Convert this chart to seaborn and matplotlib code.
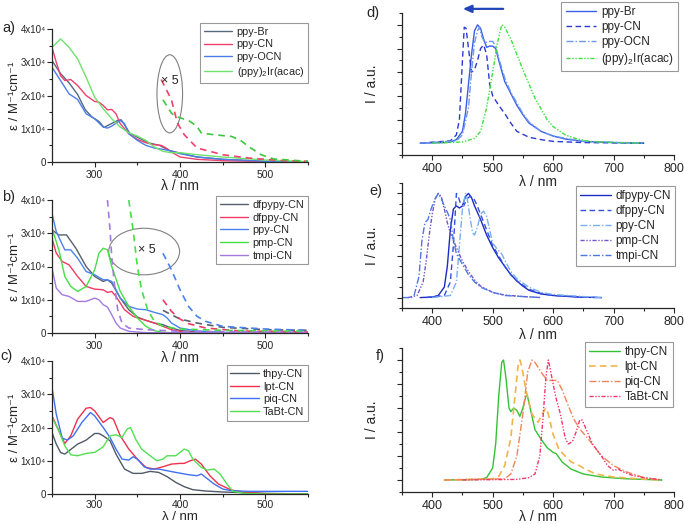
import numpy as np
import pandas as pd
import seaborn as sns
import matplotlib
matplotlib.use("Agg")
import matplotlib.pyplot as plt
from matplotlib.patches import Ellipse
from matplotlib.ticker import MultipleLocator

# ---------------- Panel a (absorption) ----------------
a_br_x = [250, 260, 270, 280, 289, 297, 305, 311, 317, 327, 331, 335, 341, 352, 364, 376, 388, 400, 420, 450, 500, 550]
a_br_y = [3.05, 2.66, 2.38, 2.03, 1.57, 1.35, 1.22, 1.04, 1.12, 1.25, 1.27, 1.12, 0.87, 0.72, 0.57, 0.50, 0.34, 0.27, 0.15, 0.08, 0.02, 0.0]
a_cn_x = [250, 255, 260, 265, 272, 280, 290, 300, 305, 310, 315, 320, 325, 330, 340, 350, 360, 370, 378, 385, 390, 400, 420, 450, 500, 550]
a_cn_y = [3.45, 3.0, 2.6, 2.45, 2.48, 2.3, 2.0, 1.82, 1.8, 1.7, 1.57, 1.58, 1.45, 1.15, 0.85, 0.68, 0.58, 0.52, 0.5, 0.4, 0.3, 0.15, 0.08, 0.04, 0.01, 0.0]
a_ocn_x = [250, 260, 270, 280, 290, 300, 310, 315, 320, 330, 335, 340, 350, 360, 370, 380, 390, 400, 420, 450, 500, 550]
a_ocn_y = [2.85, 2.45, 2.05, 1.88, 1.45, 1.3, 1.05, 1.02, 1.08, 1.25, 1.15, 0.85, 0.65, 0.5, 0.42, 0.38, 0.33, 0.25, 0.15, 0.08, 0.02, 0.0]
a_ir_x = [250, 260, 270, 280, 290, 300, 310, 320, 330, 340, 350, 360, 370, 380, 390, 400, 420, 450, 500, 550]
a_ir_y = [3.45, 3.7, 3.45, 3.1, 2.55, 1.95, 1.6, 1.3, 1.05, 0.88, 0.78, 0.65, 0.45, 0.32, 0.28, 0.28, 0.22, 0.15, 0.06, 0.01]
a_cn5_x = [378, 390, 397, 405, 420, 450, 480, 520, 550]
a_cn5_y = [2.48, 1.87, 1.17, 0.82, 0.42, 0.22, 0.12, 0.04, 0.02]
a_ir5_x = [380, 390, 395, 410, 420, 425, 440, 460, 470, 480, 495, 510, 550]
a_ir5_y = [1.87, 1.47, 1.37, 1.25, 1.07, 0.87, 0.82, 0.77, 0.67, 0.47, 0.22, 0.09, 0.02]

# ---------------- Panel b ----------------
b_dfpypy_x = [250, 258, 267, 278, 290, 300, 310, 315, 320, 330, 340, 350, 360, 370, 380, 390, 400, 420, 450, 550]
b_dfpypy_y = [3.1, 2.95, 2.95, 2.55, 2.0, 1.7, 1.55, 1.6, 1.5, 1.05, 0.7, 0.48, 0.38, 0.3, 0.25, 0.15, 0.08, 0.03, 0.01, 0.0]
b_dfppy_x = [250, 255, 262, 270, 280, 290, 300, 310, 315, 320, 325, 335, 345, 360, 370, 380, 390, 400, 420, 550]
b_dfppy_y = [2.85, 2.4, 2.15, 2.05, 1.7, 1.4, 1.32, 1.3, 1.22, 1.25, 1.1, 0.7, 0.5, 0.38, 0.3, 0.2, 0.1, 0.05, 0.01, 0.0]
b_ppy_x = [250, 255, 265, 272, 280, 290, 300, 310, 315, 320, 330, 340, 350, 360, 370, 380, 385, 390, 400, 420, 450, 550]
b_ppy_y = [3.6, 3.05, 2.5, 2.5, 2.25, 1.85, 1.75, 1.6, 1.6, 1.55, 1.05, 0.8, 0.72, 0.7, 0.62, 0.55, 0.45, 0.3, 0.15, 0.06, 0.02, 0.0]
b_pmp_x = [250, 258, 265, 272, 280, 290, 300, 305, 310, 315, 320, 330, 340, 350, 360, 370, 380, 400, 550]
b_pmp_y = [3.15, 2.5, 1.7, 1.4, 1.25, 1.4, 1.9, 2.4, 2.55, 2.5, 2.0, 1.25, 0.8, 0.45, 0.2, 0.07, 0.02, 0.0, 0.0]
b_tmpi_x = [250, 255, 262, 270, 280, 290, 300, 305, 310, 315, 320, 325, 330, 340, 360, 550]
b_tmpi_y = [1.95, 1.35, 1.15, 1.1, 0.95, 0.95, 1.05, 1.0, 0.85, 0.78, 0.55, 0.3, 0.15, 0.05, 0.01, 0.0]
b_dfpypy5_x = [380, 390, 400, 420, 450, 500, 550]
b_dfpypy5_y = [0.68, 0.55, 0.42, 0.3, 0.17, 0.1, 0.08]
b_dfppy5_x = [380, 390, 400, 410, 430, 470, 550]
b_dfppy5_y = [1.0, 0.65, 0.42, 0.28, 0.15, 0.06, 0.03]
b_ppy5_x = [380, 390, 400, 410, 420, 430, 450, 500, 550]
b_ppy5_y = [2.4, 1.9, 1.3, 0.8, 0.5, 0.35, 0.2, 0.12, 0.08]
b_pmp5_x = [340, 345, 350, 355, 362, 370, 380, 400, 450, 550]
b_pmp5_y = [4.0, 3.1, 2.0, 1.3, 0.7, 0.35, 0.2, 0.12, 0.08, 0.05]
b_tmpi5_x = [315, 318, 320, 323, 327, 332, 340, 360, 400, 550]
b_tmpi5_y = [4.0, 3.1, 2.3, 1.5, 0.7, 0.3, 0.15, 0.1, 0.05, 0.02]

# ---------------- Panel c ----------------
c_thpy_x = [250, 255, 260, 265, 270, 280, 290, 300, 305, 310, 318, 325, 335, 345, 355, 365, 375, 385, 395, 405, 415, 430, 450, 500, 550]
c_thpy_y = [1.85, 1.5, 1.25, 1.2, 1.3, 1.5, 1.62, 1.82, 1.82, 1.75, 1.6, 1.2, 0.75, 0.62, 0.62, 0.68, 0.65, 0.52, 0.35, 0.22, 0.13, 0.09, 0.06, 0.02, 0.0]
c_lpt_x = [250, 258, 265, 272, 280, 290, 295, 300, 310, 318, 322, 330, 340, 350, 360, 370, 380, 390, 400, 405, 412, 418, 425, 435, 445, 460, 475, 500, 550]
c_lpt_y = [2.35, 1.9, 1.52, 1.75, 2.25, 2.58, 2.6, 2.5, 2.15, 2.3, 2.25, 1.75, 1.35, 1.05, 0.8, 0.75, 0.82, 0.9, 0.92, 0.92, 1.0, 1.05, 0.9, 0.55, 0.3, 0.12, 0.05, 0.01, 0.0]
c_piq_x = [250, 255, 262, 268, 275, 285, 295, 300, 310, 318, 325, 332, 340, 345, 350, 358, 365, 375, 385, 395, 410, 420, 425, 430, 440, 450, 460, 480, 500, 550]
c_piq_y = [3.2, 2.4, 1.68, 1.62, 1.75, 2.15, 2.45, 2.35, 2.0, 1.7, 1.35, 1.05, 1.02, 1.12, 1.05, 0.82, 0.75, 0.75, 0.7, 0.65, 0.58, 0.55, 0.6, 0.5, 0.3, 0.15, 0.1, 0.08, 0.08, 0.08]
c_tabt_x = [250, 258, 265, 272, 280, 290, 300, 310, 318, 325, 332, 338, 342, 348, 355, 365, 373, 380, 385, 395, 400, 405, 410, 415, 425, 432, 440, 447, 455, 462, 475, 500, 550]
c_tabt_y = [2.3, 1.9, 1.45, 1.18, 1.15, 1.22, 1.25, 1.42, 1.75, 1.78, 1.7, 1.95, 2.0, 1.65, 1.35, 1.15, 1.0, 1.05, 1.15, 1.15, 1.25, 1.35, 1.3, 1.05, 0.8, 0.72, 0.75, 0.6, 0.3, 0.08, 0.02, 0.0, 0.0]

# ---------------- Panel d (emission) ----------------
d_br_x = [380, 420, 430, 440, 450, 455, 460, 465, 470, 475, 480, 485, 490, 495, 500, 505, 510, 520, 530, 540, 550, 560, 580, 600, 620, 650, 700, 750]
d_br_y = [0, 0.005, 0.01, 0.03, 0.1, 0.25, 0.5, 0.75, 0.95, 1.0, 0.97, 0.88, 0.81, 0.82, 0.82, 0.8, 0.7, 0.52, 0.42, 0.32, 0.24, 0.17, 0.1, 0.06, 0.035, 0.015, 0.005, 0]
d_cn_x = [380, 430, 440, 445, 450, 453, 456, 460, 465, 470, 475, 480, 485, 490, 495, 500, 510, 520, 530, 540, 560, 580, 600, 650, 750]
d_cn_y = [0, 0.02, 0.07, 0.2, 0.7, 0.98, 0.97, 0.8, 0.6, 0.62, 0.7, 0.8, 0.83, 0.75, 0.5, 0.4, 0.32, 0.25, 0.17, 0.1, 0.05, 0.03, 0.015, 0.005, 0]
d_ocn_x = [380, 440, 450, 460, 465, 470, 475, 478, 482, 487, 495, 500, 505, 510, 520, 530, 540, 550, 560, 580, 600, 650, 750]
d_ocn_y = [0, 0.02, 0.07, 0.3, 0.6, 0.85, 0.95, 0.98, 0.9, 0.85, 0.86, 0.86, 0.82, 0.72, 0.55, 0.43, 0.34, 0.25, 0.18, 0.1, 0.06, 0.015, 0]
d_ir_x = [400, 450, 470, 480, 490, 500, 508, 515, 520, 530, 540, 550, 560, 570, 580, 590, 600, 620, 640, 660, 700, 750]
d_ir_y = [0, 0.01, 0.04, 0.1, 0.3, 0.6, 0.85, 1.0, 0.98, 0.88, 0.75, 0.62, 0.5, 0.38, 0.29, 0.2, 0.14, 0.07, 0.035, 0.015, 0.005, 0]

# ---------------- Panel e ----------------
e_dfpypy_x = [380, 400, 410, 420, 425, 430, 435, 440, 445, 450, 455, 460, 465, 470, 480, 490, 500, 510, 520, 530, 540, 550, 560, 580, 600, 640, 680]
e_dfpypy_y = [0, 0.005, 0.02, 0.1, 0.3, 0.65, 0.85, 0.88, 0.86, 0.88, 0.97, 1.0, 0.96, 0.88, 0.75, 0.6, 0.48, 0.38, 0.3, 0.22, 0.16, 0.11, 0.07, 0.035, 0.02, 0.005, 0]
e_dfppy_x = [390, 420, 430, 435, 440, 443, 447, 452, 458, 462, 468, 473, 480, 490, 500, 510, 520, 530, 540, 560, 580, 600, 650, 680]
e_dfppy_y = [0, 0.02, 0.15, 0.5, 1.0, 0.97, 0.9, 0.88, 0.95, 0.97, 0.96, 0.9, 0.8, 0.65, 0.5, 0.4, 0.3, 0.22, 0.16, 0.08, 0.04, 0.02, 0.005, 0]
e_ppy_x = [400, 430, 440, 445, 450, 455, 458, 463, 467, 470, 475, 480, 485, 490, 495, 500, 510, 515, 520, 530, 540, 560, 580, 600, 650, 680]
e_ppy_y = [0, 0.02, 0.15, 0.5, 0.85, 1.0, 0.95, 0.75, 0.62, 0.6, 0.68, 0.8, 0.83, 0.78, 0.65, 0.52, 0.45, 0.42, 0.36, 0.25, 0.18, 0.1, 0.05, 0.03, 0.01, 0]
e_pmp_x = [360, 375, 385, 390, 395, 400, 405, 410, 415, 420, 425, 430, 440, 450, 460, 470, 480, 500, 520, 550, 580]
e_pmp_y = [0, 0.02, 0.15, 0.35, 0.6, 0.8, 0.95, 1.0, 0.97, 0.85, 0.72, 0.62, 0.48, 0.35, 0.25, 0.17, 0.11, 0.05, 0.025, 0.01, 0]
e_tmpi_x = [350, 365, 370, 378, 383, 388, 393, 398, 405, 410, 415, 420, 425, 430, 435, 440, 450, 460, 470, 480, 500, 520, 550, 580]
e_tmpi_y = [0, 0, 0.02, 0.2, 0.55, 0.72, 0.75, 0.85, 0.95, 1.0, 0.95, 0.88, 0.82, 0.75, 0.55, 0.42, 0.32, 0.22, 0.15, 0.1, 0.05, 0.02, 0.01, 0]

# ---------------- Panel f ----------------
f_thpy_x = [420, 480, 490, 500, 505, 510, 515, 518, 522, 527, 530, 535, 540, 545, 550, 555, 557, 562, 570, 580, 590, 600, 605, 615, 630, 650, 680, 720, 780]
f_thpy_y = [0, 0.005, 0.02, 0.1, 0.3, 0.7, 0.98, 1.0, 0.85, 0.6, 0.57, 0.6, 0.58, 0.53, 0.6, 0.7, 0.71, 0.6, 0.42, 0.34, 0.27, 0.23, 0.22, 0.15, 0.09, 0.05, 0.025, 0.01, 0]
f_lpt_x = [420, 500, 510, 520, 530, 537, 542, 545, 548, 555, 565, 575, 582, 588, 592, 600, 610, 620, 630, 640, 650, 670, 700, 740, 780]
f_lpt_y = [0, 0.01, 0.03, 0.12, 0.35, 0.7, 0.95, 1.0, 0.95, 0.75, 0.55, 0.48, 0.55, 0.6, 0.55, 0.38, 0.25, 0.2, 0.15, 0.13, 0.1, 0.05, 0.025, 0.01, 0]
f_piq_x = [420, 520, 530, 540, 550, 558, 565, 570, 580, 590, 600, 607, 615, 625, 635, 645, 660, 680, 700, 720, 750, 780]
f_piq_y = [0, 0.01, 0.05, 0.2, 0.55, 0.9, 1.0, 0.98, 0.9, 0.83, 0.83, 0.83, 0.75, 0.62, 0.5, 0.42, 0.33, 0.2, 0.12, 0.07, 0.02, 0]
f_tabt_x = [450, 540, 560, 570, 578, 583, 588, 592, 595, 600, 605, 612, 620, 625, 632, 638, 644, 648, 655, 665, 680, 690, 700, 708, 715, 730, 750, 780]
f_tabt_y = [0, 0.005, 0.02, 0.05, 0.2, 0.5, 0.85, 1.0, 0.93, 0.8, 0.68, 0.55, 0.35, 0.3, 0.32, 0.4, 0.5, 0.5, 0.42, 0.3, 0.2, 0.12, 0.08, 0.09, 0.07, 0.04, 0.02, 0]

eps_ticks = [0, 10000, 20000, 30000, 40000]
eps_ticklabels = ['0', '1x10⁴', '2x10⁴', '3x10⁴', '4x10⁴']

# ---------------- Style ----------------
sns.set_style("ticks")
plt.rcParams['font.family'] = ['Liberation Sans', 'DejaVu Sans']
plt.rcParams['mathtext.fontset'] = 'custom'
plt.rcParams['mathtext.rm'] = 'Liberation Sans'
plt.rcParams['mathtext.it'] = 'Liberation Sans:italic'
plt.rcParams['axes.linewidth'] = 0.9

W, H = 685, 524
fig = plt.figure(figsize=(W / 100, H / 100), dpi=100)


def rect(l, t, r, b):
    return [l / W, 1 - b / H, (r - l) / W, (b - t) / H]


def draw(ax, x, y, color, ls='-', label=None, scale=1.0, lw=1.0):
    df = pd.DataFrame({'x': x, 'y': np.asarray(y) * scale})
    sns.lineplot(data=df, x='x', y='y', ax=ax, color=color, linestyle=ls,
                 lw=lw, label=label, legend=False, sort=False)


def style_left(ax, xlab_y, xlab_fs=10, xpad=2):
    ax.set_facecolor('none')
    ax.set_xlim(250, 550)
    ax.set_ylim(0, 40000)
    ax.xaxis.set_major_locator(MultipleLocator(100))
    ax.xaxis.set_minor_locator(MultipleLocator(50))
    ax.yaxis.set_minor_locator(MultipleLocator(5000))
    ax.set_yticks(eps_ticks)
    ax.set_yticklabels(eps_ticklabels)
    ax.set_xlabel('λ / nm', fontsize=xlab_fs, va='top')
    ax.set_ylabel('ε / M⁻¹cm⁻¹', fontsize=9.5)
    ax.yaxis.set_label_coords((20.5 - 52) / 256, 0.5)
    ax.xaxis.set_label_coords(0.5, xlab_y)
    ax.tick_params(axis='x', which='major', labelsize=7.5, length=3.5, width=0.8, pad=xpad)
    ax.tick_params(axis='y', which='major', labelsize=7.0, length=3.5, width=0.8, pad=1)
    ax.tick_params(axis='both', which='minor', length=2, width=0.8)
    sns.despine(ax=ax)


def style_right(ax):
    ax.set_facecolor('none')
    ax.set_xlim(350, 800)
    ax.set_ylim(-0.1, 1.1)
    ax.xaxis.set_major_locator(MultipleLocator(100))
    ax.xaxis.set_minor_locator(MultipleLocator(50))
    ax.yaxis.set_minor_locator(MultipleLocator(0.1))
    ax.set_yticks([0, 0.2, 0.4, 0.6, 0.8, 1.0])
    ax.set_yticklabels([])
    ax.set_xlabel('λ / nm', fontsize=10, labelpad=0)
    ax.set_ylabel('I / a.u.', fontsize=10)
    ax.yaxis.set_label_coords((379 - 402) / 272, 0.5)
    ax.tick_params(axis='both', which='major', labelsize=9, length=3.5, width=0.8, pad=2)
    ax.tick_params(axis='both', which='minor', length=2, width=0.8)
    sns.despine(ax=ax)


def legend(ax, anchor_px, fs=7.8):
    leg = ax.legend(loc='upper right', bbox_to_anchor=(anchor_px[0] / W, 1 - anchor_px[1] / H),
                    bbox_transform=fig.transFigure, fontsize=fs, frameon=True, fancybox=False,
                    edgecolor='#999999', framealpha=1, handlelength=2.6, handletextpad=0.4,
                    labelspacing=0.25, borderpad=0.35, borderaxespad=0)
    leg.get_frame().set_linewidth(0.8)


S = 1e4
DASH = (0, (4, 3))
# Panel a
ax_a = fig.add_axes(rect(52, 29, 308, 162))
draw(ax_a, a_br_x, a_br_y, '#56687e', label='ppy-Br', scale=S)
draw(ax_a, a_cn_x, a_cn_y, '#f2406c', label='ppy-CN', scale=S)
draw(ax_a, a_ocn_x, a_ocn_y, '#4c7ee8', label='ppy-OCN', scale=S)
draw(ax_a, a_ir_x, a_ir_y, '#6de36d', label='(ppy)$_{2}$Ir(acac)', scale=S)
draw(ax_a, a_cn5_x, a_cn5_y, '#f2406c', ls=DASH, scale=S, lw=1.2)
draw(ax_a, a_ir5_x, a_ir5_y, '#3cc83c', ls=DASH, scale=S, lw=1.2)
ax_a.add_patch(Ellipse((388, 20500), 30, 23500, fill=False, ec='#808080', lw=0.8))
ax_a.text(388, 24500, '× 5', fontsize=9, ha='center', va='center')
style_left(ax_a, -0.125)
legend(ax_a, (308, 23))

# Panel b
ax_b = fig.add_axes(rect(52, 200, 308, 333))
draw(ax_b, b_dfpypy_x, b_dfpypy_y, '#56606e', label='dfpypy-CN', scale=S)
draw(ax_b, b_dfppy_x, b_dfppy_y, '#f03a62', label='dfppy-CN', scale=S)
draw(ax_b, b_ppy_x, b_ppy_y, '#4a82f0', label='ppy-CN', scale=S)
draw(ax_b, b_pmp_x, b_pmp_y, '#44e044', label='pmp-CN', scale=S)
draw(ax_b, b_tmpi_x, b_tmpi_y, '#a47ae0', label='tmpi-CN', scale=S)
draw(ax_b, b_dfpypy5_x, b_dfpypy5_y, '#56606e', ls=DASH, scale=S, lw=1.2)
draw(ax_b, b_dfppy5_x, b_dfppy5_y, '#f03a62', ls=DASH, scale=S, lw=1.2)
draw(ax_b, b_ppy5_x, b_ppy5_y, '#4a82f0', ls=DASH, scale=S, lw=1.2)
draw(ax_b, b_pmp5_x, b_pmp5_y, '#44e044', ls=DASH, scale=S, lw=1.2)
draw(ax_b, b_tmpi5_x, b_tmpi5_y, '#a47ae0', ls=DASH, scale=S, lw=1.2)
ax_b.add_patch(Ellipse((358, 24500), 83, 14000, fill=False, ec='#808080', lw=0.8))
ax_b.text(361, 25000, '× 5', fontsize=9, ha='center', va='center')
style_left(ax_b, -0.135)
legend(ax_b, (308, 196))

# Panel c
ax_c = fig.add_axes(rect(52, 361, 308, 494))
draw(ax_c, c_thpy_x, c_thpy_y, '#505a66', label='thpy-CN', scale=S)
draw(ax_c, c_lpt_x, c_lpt_y, '#f0304e', label='lpt-CN', scale=S)
draw(ax_c, c_piq_x, c_piq_y, '#4070f0', label='piq-CN', scale=S)
draw(ax_c, c_tabt_x, c_tabt_y, '#52e052', label='TaBt-CN', scale=S)
style_left(ax_c, -0.125, xlab_fs=9.5, xpad=1)
legend(ax_c, (308, 365))

# Panel d
ax_d = fig.add_axes(rect(402, 13, 674, 155))
draw(ax_d, d_br_x, d_br_y, '#3a5ee6', label='ppy-Br')
draw(ax_d, d_cn_x, d_cn_y, '#2a3ad0', ls=(0, (4, 2.5)), label='ppy-CN')
draw(ax_d, d_ocn_x, d_ocn_y, '#6c98f0', ls=(0, (5, 1.5, 1, 1.5)), label='ppy-OCN')
draw(ax_d, d_ir_x, d_ir_y, '#3ee23e', ls=(0, (3, 1.2, 1, 1.2, 1, 1.2)), label='(ppy)$_{2}$Ir(acac)')
ax_d.annotate('', xy=(446, 1.135), xytext=(522, 1.135),
              arrowprops=dict(arrowstyle='-|>,head_length=0.5,head_width=0.22', color='#2244b8', lw=1.6),
              annotation_clip=False)
style_right(ax_d)
legend(ax_d, (678, 2), fs=8.5)

# Panel e
ax_e = fig.add_axes(rect(402, 183, 674, 308))
draw(ax_e, e_dfpypy_x, e_dfpypy_y, '#1c2ac4', label='dfpypy-CN')
draw(ax_e, e_dfppy_x, e_dfppy_y, '#3050e0', ls=(0, (4, 2.5)), label='dfppy-CN')
draw(ax_e, e_ppy_x, e_ppy_y, '#78aef2', ls=(0, (5, 1.5, 1, 1.5)), label='ppy-CN')
draw(ax_e, e_pmp_x, e_pmp_y, '#7454cc', ls=(0, (3, 1.2, 1, 1.2, 1, 1.2)), label='pmp-CN')
draw(ax_e, e_tmpi_x, e_tmpi_y, '#4a78e6', ls=(0, (5, 1.5, 1, 1.5)), label='tmpi-CN')
style_right(ax_e)
legend(ax_e, (675, 186), fs=8.5)

# Panel f
ax_f = fig.add_axes(rect(402, 348, 674, 492))
draw(ax_f, f_thpy_x, f_thpy_y, '#34c234', label='thpy-CN')
draw(ax_f, f_lpt_x, f_lpt_y, '#f2b34e', ls=(0, (4, 2.5)), label='lpt-CN', lw=1.2)
draw(ax_f, f_piq_x, f_piq_y, '#f08458', ls=(0, (5, 1.5, 1, 1.5)), label='piq-CN')
draw(ax_f, f_tabt_x, f_tabt_y, '#f2386e', ls=(0, (3, 1.2, 1, 1.2, 1, 1.2)), label='TaBt-CN')
style_right(ax_f)
ax_f.xaxis.labelpad = -1
legend(ax_f, (673, 342), fs=8.5)

# Panel labels
for txt, (px, py) in {'a)': (2, 28), 'b)': (2, 197), 'c)': (0, 356),
                      'd)': (366, 13), 'e)': (369, 191), 'f)': (376, 356)}.items():
    fig.text(px / W, 1 - py / H, txt, fontsize=10.5, ha='left', va='center')

fig.savefig('out.png', dpi=100)
